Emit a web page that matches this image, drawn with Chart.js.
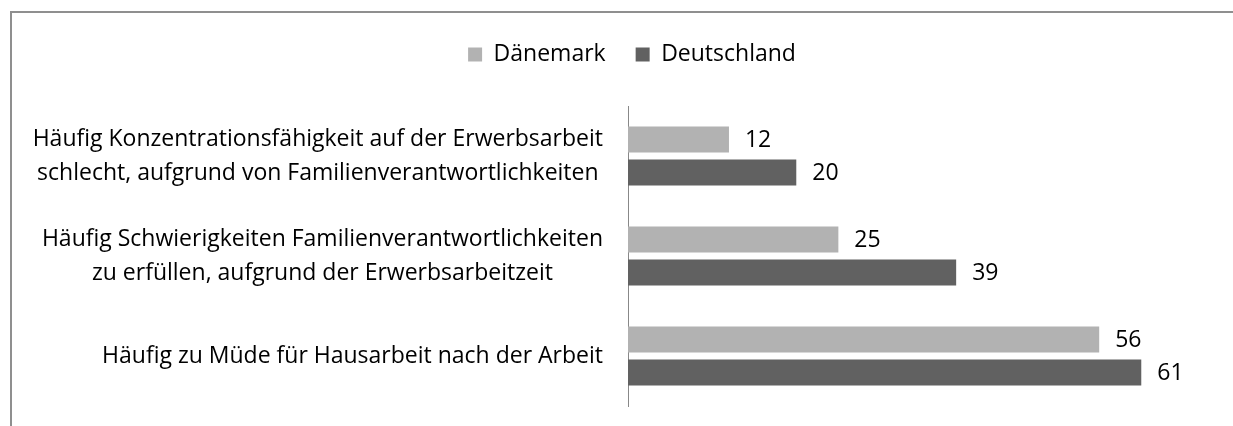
<!DOCTYPE html>
<html>
<head>
<meta charset="utf-8">
<script src="https://cdn.jsdelivr.net/npm/chart.js@4"></script>
<style>
    body { margin: 0; background: #fff; }
    #frame {
        position: absolute; left: 10px; top: 11px; width: 1400px; height: 600px;
        border-left: 2px solid #8f8f8f; border-top: 2px solid #8f8f8f;
    }
    #wrap { position: absolute; left: 0; top: 0; width: 1233px; height: 426px; }
</style>
</head>
<body>
<div id="frame"></div>
<div id="wrap"><canvas id="chart"></canvas></div>
<script>
// Category labels (each entry is one label, split into its lines)
const categories = [
    ['Häufig Konzentrationsfähigkeit auf der Erwerbsarbeit', 'schlecht, aufgrund von Familienverantwortlichkeiten'],
    ['Häufig Schwierigkeiten Familienverantwortlichkeiten', 'zu erfüllen, aufgrund der Erwerbsarbeitzeit'],
    ['Häufig zu Müde für Hausarbeit nach der Arbeit']
];
const seriesNames = ['Dänemark', 'Deutschland'];
const daenemark = [12, 25, 56];
const deutschland = [20, 39, 61];

const FONT = '"Open Sans"';
const FONT_SIZE = 23;
const LINE_GAP = 34;
const TOP_PAD = 13;

Chart.defaults.font.family = FONT;
Chart.defaults.font.size = FONT_SIZE;
Chart.defaults.color = '#000';

// Force the legend to take a fixed height so the plot starts where it should
const legendHeight = {
    id: 'legendHeight',
    beforeLayout(chart) {
        const lg = chart.legend;
        if (lg && !lg._patched) {
            const fit = lg.fit;
            lg.fit = function() {
                fit.call(this);
                this.height = 106 - TOP_PAD;
            };
            lg._patched = true;
        }
    }
};

// Category labels: block right-aligned at the axis, lines centered in the block
const categoryLabels = {
    id: 'categoryLabels',
    afterDraw(chart) {
        const ctx = chart.ctx;
        const y = chart.scales.y;
        const right = chart.chartArea.left - 25;
        ctx.save();
        ctx.font = FONT_SIZE + 'px ' + FONT;
        ctx.fillStyle = '#000';
        ctx.textAlign = 'center';
        ctx.textBaseline = 'middle';
        categories.forEach((lines, i) => {
            const yc = y.getPixelForTick(i);
            const w = Math.max(...lines.map(l => ctx.measureText(l).width));
            const xc = right - w / 2;
            lines.forEach((line, j) => {
                ctx.fillText(line, xc, yc + (j - (lines.length - 1) / 2) * LINE_GAP);
            });
        });
        ctx.restore();
    }
};

// Value labels to the right of each bar
const valueLabels = {
    id: 'valueLabels',
    afterDatasetsDraw(chart) {
        const ctx = chart.ctx;
        ctx.save();
        ctx.font = FONT_SIZE + 'px ' + FONT;
        ctx.fillStyle = '#000';
        ctx.textAlign = 'left';
        ctx.textBaseline = 'middle';
        chart.data.datasets.forEach((ds, i) => {
            chart.getDatasetMeta(i).data.forEach((bar, j) => {
                ctx.fillText(ds.data[j], bar.x + 16, bar.y + 1);
            });
        });
        ctx.restore();
    }
};

new Chart(document.getElementById('chart'), {
    type: 'bar',
    data: {
        labels: categories,
        datasets: [
            { label: seriesNames[0], data: daenemark, backgroundColor: '#b2b2b2' },
            { label: seriesNames[1], data: deutschland, backgroundColor: '#616161' }
        ]
    },
    options: {
        indexAxis: 'y',
        responsive: true,
        maintainAspectRatio: false,
        animation: false,
        categoryPercentage: 0.66,
        barPercentage: 0.79,
        layout: { padding: { left: 47, right: 16, top: TOP_PAD, bottom: 20 } },
        plugins: {
            legend: {
                position: 'top',
                labels: { boxWidth: 14, boxHeight: 14, padding: 30, color: '#000' }
            },
            tooltip: { enabled: false }
        },
        scales: {
            x: { display: false, min: 0, max: 70 },
            y: {
                grid: { display: false, drawTicks: false },
                border: { display: true, color: '#888', width: 1 },
                ticks: { display: false },
                afterFit(scale) { scale.width = 628 - 47; }
            }
        }
    },
    plugins: [legendHeight, categoryLabels, valueLabels]
});
</script>
</body>
</html>
